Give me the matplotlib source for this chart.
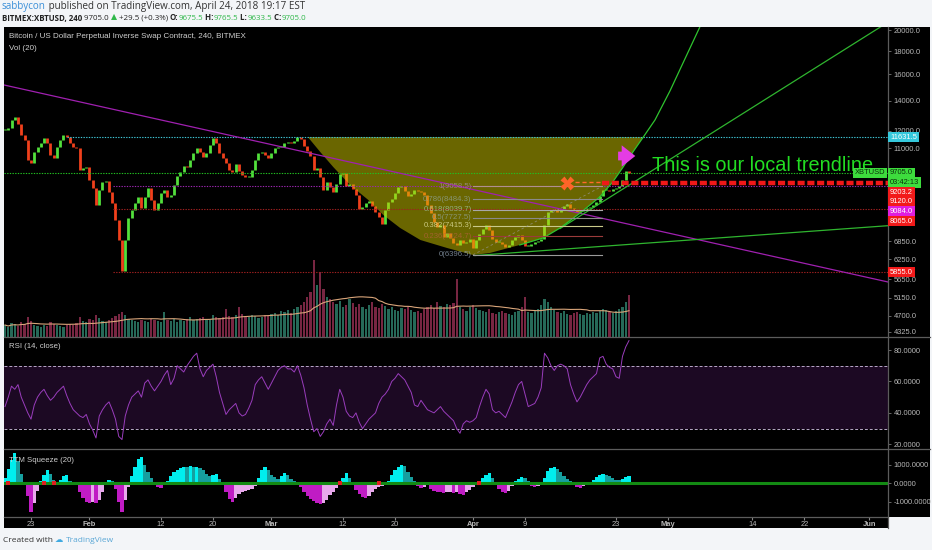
import numpy as np
import pandas as pd
import matplotlib
matplotlib.use('Agg')
import matplotlib.pyplot as plt
import matplotlib.dates as mdates
from matplotlib.ticker import FixedLocator, FuncFormatter, NullLocator
from matplotlib.patches import Rectangle
from matplotlib.lines import Line2D

# ---------------------------------------------------------------- data
# 12h closes of XBTUSD, starting 2018-01-19 00:00
closes = [
    12060, 12180, 12700, 12880, 12400, 11750, 11460, 10350, 10200, 10780,
    11060, 11290, 11580, 11290, 10620, 10460, 11060, 11460, 11750, 11640,
    11290, 11060, 11000, 9840, 9940, 9990, 9350, 8980, 8240, 8890,
    9260, 9310, 8800, 8320, 7640, 6900, 5900, 6900, 7710, 8030,
    8320, 8580, 8120, 8580, 8980, 8450, 8030, 8320, 8760, 8890,
    8580, 8670, 9120, 9550, 9740, 10040, 9990, 10350, 10730, 11000,
    10780, 10510, 10730, 11170, 11580, 11290, 10730, 10460, 10200, 9840,
    9740, 10150, 9790, 9600, 9500, 9500, 9840, 10350, 10730, 10780,
    10620, 10460, 10730, 11000, 11060, 11060, 11290, 11340, 11290, 11400,
    11640, 11520, 11120, 10840, 10570, 9840, 9940, 9500, 8890, 9260,
    9030, 8800, 9170, 9640, 9690, 9070, 9170, 8940, 8670, 8070,
    8160, 8320, 8410, 8200, 7950, 7750, 7480, 8030, 8370, 8490,
    8760, 9030, 9070, 8850, 8630, 8710, 8890, 8850, 8800, 8670,
    8240, 7910, 7560, 7370, 7440, 7000, 7150, 6970, 6800, 6730,
    6900, 6800, 6830, 6940, 6630, 6900, 7110, 7300, 7440, 7260,
    6940, 6830, 6830, 6760, 6660, 6730, 6900, 7000, 7080, 6900,
    6690, 6690, 6760, 6830, 6860, 6940, 7440, 7950, 8030, 8030,
    7950, 8070, 8200, 8280, 8120, 8030, 7950, 7990, 8030, 8120,
    8160, 8240, 8370, 8630, 8890, 8890, 8850, 8940, 8980, 9070,
    9350, 9790, 9705,
]

volume = [
    120, 100, 140, 130, 110, 150, 130, 200, 160, 120,
    110, 100, 120, 110, 150, 130, 120, 110, 100, 120,
    130, 120, 140, 200, 160, 150, 180, 170, 220, 190,
    160, 150, 170, 190, 210, 230, 250, 220, 180, 170,
    160, 150, 170, 160, 150, 180, 170, 160, 150, 250,
    170, 160, 180, 150, 170, 160, 180, 200, 170, 180,
    190, 200, 180, 170, 220, 200, 190, 200, 280, 210,
    200, 220, 300, 230, 210, 200, 220, 210, 190, 200,
    220, 210, 230, 240, 220, 260, 250, 270, 240, 280,
    300, 320, 350, 400, 450, 770, 520, 650, 480, 400,
    380, 350, 330, 360, 300, 320, 380, 340, 300, 330,
    300, 280, 320, 350, 300, 290, 330, 310, 280, 300,
    270, 260, 290, 280, 300, 270, 250, 260, 240, 280,
    300, 320, 290, 350, 310, 300, 330, 320, 340, 580,
    300, 280, 260, 300, 320, 290, 270, 260, 250, 280,
    240, 230, 250, 260, 240, 230, 220, 250, 260, 300,
    400, 250, 240, 260, 280, 320, 380, 350, 300, 270,
    250, 240, 260, 230, 220, 240, 250, 230, 220, 240,
    230, 250, 240, 260, 280, 270, 250, 240, 260, 280,
    300, 350, 420,
]

rsi = [
    44, 50, 57, 55, 58, 50, 45, 40, 36, 45,
    50, 53, 55, 51, 48, 50, 53, 55, 57, 51,
    46, 42, 40, 38, 37, 39, 33, 29, 24, 38,
    42, 45, 47, 42, 36, 25, 23, 38, 45, 50,
    52, 54, 50, 59, 61, 57, 54, 57, 60, 64,
    67, 58, 62, 70, 68, 66, 70, 73, 76, 78,
    68, 63, 67, 69, 71, 63, 53, 46, 39, 42,
    44, 46, 40, 38, 39, 43, 48, 58, 61, 63,
    59, 55, 59, 63, 67, 69, 70, 68, 68, 66,
    70, 64, 56, 45, 36, 28, 30, 25, 28, 33,
    36, 32, 45, 55, 50, 41, 38, 37, 40, 34,
    30, 33, 36, 38, 40, 46, 50, 52, 55, 60,
    62, 65, 63, 61, 57, 53, 45, 44, 48, 45,
    42, 41, 40, 42, 44, 41, 39, 37, 35, 30,
    27, 33, 35, 34, 35, 37, 44, 50, 55, 52,
    42, 40, 41, 39, 37, 42, 47, 53, 58, 60,
    52, 44, 45, 46, 50, 56, 78, 75, 70, 67,
    70, 71, 70, 68, 58, 52, 47, 50, 54, 58,
    61, 63, 65, 75, 76, 71, 69, 68, 63, 62,
    76, 82, 86,
]

squeeze = [
    300, 800, 1300, 1640, 1200, 500, -100, -700, -1550, -1100,
    -400, 150, 450, 730, 500, 200, -80, 200, 400, 450,
    150, 20, -100, -450, -800, -1000, -1050, -1000, -1100, -900,
    -500, -100, 180, 100, -300, -1000, -1550, -900, -200, 400,
    900, 1350, 1450, 1000, 600, 300, 80, -200, -250, -100,
    150, 400, 600, 750, 850, 910, 900, 920, 880, 900,
    850, 700, 500, 400, 450, 500, 250, -100, -500, -850,
    -1000, -800, -600, -450, -400, -350, -300, -150, 300, 700,
    910, 750, 450, 350, 250, 400, 550, 450, 250, 100,
    -50, -200, -450, -700, -850, -950, -1050, -1150, -1100, -900,
    -650, -450, -250, -100, 300, 550, 300, -100, -350, -600,
    -750, -820, -700, -500, -300, -200, -150, -50, 150, 450,
    700, 900, 1020, 950, 600, 350, 100, -150, -250, -200,
    -100, -300, -400, -450, -500, -550, -500, -450, -550, -500,
    -600, -640, -500, -350, -200, -50, 100, 300, 450, 550,
    300, -100, -300, -450, -550, -400, -150, 100, 250, 360,
    300, 100, -150, -200, -150, -50, 300, 650, 850, 910,
    800, 600, 400, 250, 100, -100, -200, -250, -150, -80,
    50, 200, 350, 450, 500, 480, 400, 300, 200, 180,
    250, 350, 410,
]
squeeze_on = [1, 12, 15, 103, 115, 146]

# drawings: (days after 2018-01-23, price)
arc_days = [42.6, 44.5, 46.5, 49.1, 51.9, 54.2, 56.8, 59.9, 64.0, 68.0, 70.6,
            75.2, 78.8, 81.4, 84.5, 87.5, 89.5, 91.1, 92.6, 94.2]
arc_price = [11631.5, 10783, 9992, 9120, 8451, 7832, 7332, 6899, 6625, 6392, 6458,
             6727, 6970, 7332, 7912, 8581, 9260, 9992, 10783, 11631.5]
curve_days = [75.2, 78.8, 81.4, 84.5, 87.5, 89.5, 91.1, 92.6, 94.2, 96.0, 98.3, 100.6, 102.9]
curve_price = [6727, 6970, 7332, 7912, 8581, 9260, 9992, 10783, 11631.5, 12686, 14696, 17289, 20338]
purple_line = ([-4.15, 131.85], [15152, 5574])
green_low = ([68.3, 131.85], [6375, 7418])
green_mid = ([81.4, 131.85], [7312, 20839])

fib_ratio = ['1', '0.786', '0.618', '0.5', '0.382', '0.236', '0']
fib_price = [9058.5, 8484.3, 8039.7, 7727.5, 7415.3, 7024.7, 6396.5]
fib_line_col = ['#b08f8f', '#8a8a8a', '#a8a8a8', '#8a8a8a', '#c9c98a', '#9c3b3b', '#9a9a9a']
fib_text_col = ['#a09090', '#8fa08f', '#9fc09f', '#8fa08f', '#e0e0a0', '#b0603a', '#8f9fb0']

levels = [  # price, start day, colour
    (11631.5, 5.5, '#3fc6d6'),
    (9705.0, -4.2, '#22c022'),
    (9084.0, 12.6, '#9c27b0'),
    (8065.0, 12.6, '#a02020'),
    (5855.0, 12.6, '#a02020'),
]
price_labels = [  # text, price, box colour, text colour
    ('11631.5', 11631.5, '#35c8dc', '#ffffff'),
    ('9705.0', 9705.0, '#3ddc3d', '#0a300a'),
    ('03:42:13', 9705.0, '#3ddc3d', '#0a300a'),
    ('9203.2', 9203.2, '#f21a1a', '#ffffff'),
    ('9120.0', 9120.0, '#f21a1a', '#ffffff'),
    ('9084.0', 9084.0, '#e01ee0', '#ffffff'),
    ('8065.0', 8065.0, '#f21a1a', '#ffffff'),
    ('5855.0', 5855.0, '#f21a1a', '#ffffff'),
]
price_ticks = [4325, 4700, 5150, 5650, 6250, 6850, 11000, 12000, 14000, 16000, 18000, 20000]
date_ticks = [0, 9, 20, 28, 37, 48, 56, 68, 76, 90, 98, 111, 119, 129]
date_labels = ['23', 'Feb', '12', '20', 'Mar', '12', '20', 'Apr', '9', '23', 'May', '14', '22', 'Jun']

# ---------------------------------------------------------------- setup
W, H = 932, 550
T0 = pd.Timestamp('2018-01-23')


def at(days):
    return mdates.date2num(T0 + pd.to_timedelta(np.asarray(days, float), unit='D'))


def box(x0, y0, x1, y1):
    return [x0 / W, 1 - y1 / H, (x1 - x0) / W, (y1 - y0) / H]


bg = '#f3f5f8'
axis_txt = '#b8b8b8'
plt.rcParams['font.family'] = ['Liberation Sans', 'DejaVu Sans']

fig = plt.figure(figsize=(W / 100, H / 100), dpi=100, facecolor=bg)
fig.add_artist(Rectangle((4 / W, 1 - 517 / H), 926 / W, 490 / H, transform=fig.transFigure,
                         fc='black', ec='none', zorder=0))
fig.add_artist(Rectangle((4 / W, 1 - 528 / H), 884 / W, 11 / H, transform=fig.transFigure,
                         fc='black', ec='none', zorder=0))

ax_vol = fig.add_axes(box(4, 27, 888, 337), facecolor='black')
ax = fig.add_axes(box(4, 27, 888, 337), sharex=ax_vol)
ax.patch.set_alpha(0)
ax_rsi = fig.add_axes(box(4, 337, 888, 449), sharex=ax_vol, facecolor='black')
ax_sq = fig.add_axes(box(4, 449, 888, 517), sharex=ax_vol, facecolor='black')

bars = pd.date_range('2018-01-19', periods=len(closes), freq='12h')
xb = mdates.date2num(bars)
c = np.array(closes, float)
o = np.r_[c[0], c[:-1]]
up = c >= o

for a in (ax_vol, ax, ax_rsi, ax_sq):
    for s in a.spines.values():
        s.set_visible(False)
    a.set_xlim(at(-4.154), at(131.85))
    a.tick_params(axis='x', which='both', bottom=False, labelbottom=False)

# ---------------------------------------------------------------- volume
v = np.array(volume, float)
vol_col = np.where(up, '#2b7563', '#862b4a')
ax_vol.bar(xb, v, width=0.34, color=vol_col, alpha=0.9, lw=0)
ax_vol.plot(xb, pd.Series(v).rolling(20, min_periods=1).mean(), color='#d9a57a', lw=0.8)
ax_vol.set_ylim(0, 3100)
ax_vol.set_yticks([])

# ---------------------------------------------------------------- price
ax.set_yscale('log')
ax.set_ylim(4216, 20338)
lo = np.minimum(o, c)
hi = np.maximum(np.maximum(o, c), lo * 1.006)
ax.vlines(xb, lo, hi, colors=np.where(up, '#52e03c', '#f0401c'), lw=2.0, zorder=2)

ax.fill(at(arc_days), arc_price, color='#d4cc00', alpha=0.5, lw=0, zorder=3)

for p, d0, col in levels:
    ax.plot(at([d0, 131.85]), [p, p], color=col, lw=0.8, ls=(0, (1.2, 1.2)), zorder=4)

ax.plot(at(purple_line[0]), purple_line[1], color='#a020b0', lw=0.9, zorder=4)
ax.plot(at(green_low[0]), green_low[1], color='#2fb52f', lw=0.9, zorder=4)
ax.plot(at(green_mid[0]), green_mid[1], color='#2fb52f', lw=0.9, zorder=4)
ax.plot(at(curve_days), curve_price, color='#2fc52f', lw=0.9, zorder=4)

# fibonacci retracement
for r, p, lc, tc in zip(fib_ratio, fib_price, fib_line_col, fib_text_col):
    ax.plot(at([68.0, 87.85]), [p, p], color=lc, lw=0.8, zorder=4)
    ax.text(at(67.8), p, f'{r}({p:.1f})', color=tc, fontsize=5.6, ha='right', va='center',
            alpha=0.8, zorder=5)
ax.plot(at([68.0, 87.85]), [fib_price[-1], fib_price[0]], color='#9a9a9a', lw=0.6,
        ls=(0, (3, 3)), alpha=0.7, zorder=4)

# target line and marker
ax.plot(at([83.7, 87.9]), [9240, 9240], color='#ff6a2a', lw=1.0, ls=(0, (3, 2)), zorder=5)
ax.plot(at([87.9, 131.85]), [9203.2, 9203.2], color='#f01818', lw=3.2, ls=(0, (1.6, 0.6)),
        zorder=5)
ax.plot(at([82.5]), [9203.2], marker='X', ms=10, color='#ff6428', mec='none', zorder=6)
ax.annotate('', xy=(at(93.4), 10566), xytext=(at(89.9), 10566),
            arrowprops=dict(arrowstyle='simple,head_length=0.7,head_width=1.1,tail_width=0.45',
                            color='#e43ce4', lw=0, mutation_scale=14), zorder=6)
ax.text(at(95.5), 10090, 'This is our local trendline', color='#22dd22', fontsize=14.3,
        ha='left', va='center', zorder=6, clip_on=False)

ax.yaxis.tick_right()
ax.yaxis.set_major_locator(FixedLocator(price_ticks))
ax.yaxis.set_minor_locator(NullLocator())
ax.yaxis.set_major_formatter(FuncFormatter(lambda val, pos: f'{val:.1f}'))
ax.tick_params(axis='y', colors='#777777', labelcolor=axis_txt, labelsize=5.4, length=2,
               width=0.6, pad=2)

# ---------------------------------------------------------------- RSI
ax_rsi.axhspan(30, 70, color='#5a1f70', alpha=0.32, lw=0)
for lvl in (30, 70):
    ax_rsi.axhline(lvl, color='#b8a8c8', lw=0.7, ls=(0, (3, 2)))
ax_rsi.plot(xb, rsi, color='#9a3dbd', lw=0.7)
ax_rsi.set_ylim(17, 88.3)
ax_rsi.yaxis.tick_right()
ax_rsi.set_yticks([20, 40, 60, 80])
ax_rsi.yaxis.set_major_formatter(FuncFormatter(lambda val, pos: f'{val:.4f}'))
ax_rsi.tick_params(axis='y', colors='#777777', labelcolor=axis_txt, labelsize=5.4, length=2,
                   width=0.6, pad=2)

# ---------------------------------------------------------------- TTM squeeze
sq = np.array(squeeze, float)
prev = np.r_[sq[0], sq[:-1]]
sq_col = np.where(sq >= 0, np.where(sq >= prev, '#00eeee', '#169f9f'),
                  np.where(sq <= prev, '#c01cc4', '#e8a8ec'))
ax_sq.bar(xb, sq, width=0.5, color=sq_col, lw=0)
ax_sq.axhline(0, color='#138a13', lw=2.2)
ax_sq.scatter(xb[squeeze_on], np.zeros(len(squeeze_on)), s=5, marker='s', color='#e02020',
              zorder=3, lw=0)
ax_sq.set_ylim(-1842, 1874)
ax_sq.yaxis.tick_right()
ax_sq.set_yticks([-1000, 0, 1000])
ax_sq.yaxis.set_major_formatter(FuncFormatter(lambda val, pos: f'{val:.4f}'))
ax_sq.tick_params(axis='y', colors='#777777', labelcolor=axis_txt, labelsize=5.4, length=2,
                  width=0.6, pad=2)

ax_sq.xaxis.set_major_locator(FixedLocator(at(date_ticks)))
ax_sq.xaxis.set_major_formatter(FuncFormatter(lambda val, pos: date_labels[pos]))
ax_sq.tick_params(axis='x', bottom=True, labelbottom=True, length=2, color='#888888',
                  labelcolor=axis_txt, labelsize=5.4, pad=0.8)
for t in ax_sq.get_xticklabels():
    if not t.get_text().isdigit():
        t.set_fontweight('bold')

# ---------------------------------------------------------------- panel texts
for txt, y, fs in [('Bitcoin / US Dollar Perpetual Inverse Swap Contract, 240, BITMEX', 36, 5.75),
                   ('Vol (20)', 48, 5.75), ('RSI (14, close)', 346, 5.6),
                   ('TTM Squeeze (20)', 460, 5.6)]:
    fig.text(9 / W, 1 - y / H, txt, color='#cfcfcf', fontsize=fs, va='center', zorder=10)

# separators
for y, x1 in [(337, 930), (449, 930), (517, 888)]:
    fig.add_artist(Line2D([4 / W, x1 / W], [1 - y / H, 1 - y / H], color='#5c5c5c', lw=0.9))
fig.add_artist(Line2D([888 / W, 888 / W], [1 - 27 / H, 1 - 528 / H], color='#5c5c5c', lw=0.9))

# ---------------------------------------------------------------- price labels
lnlo, lnhi = np.log(4216), np.log(20338)
step = 9.7
last = -1e9
for txt, p, fc, tc in price_labels:
    y = 27 + (lnhi - np.log(p)) / (lnhi - lnlo) * 310
    y = max(y, last + step) if p < 11000 else y
    last = y
    fig.text(890 / W, 1 - y / H, txt, color=tc, fontsize=5.4, ha='left', va='center', zorder=20,
             bbox=dict(boxstyle='square,pad=0.22', fc=fc, ec='none'))
    if txt == '9705.0':
        fig.text(885 / W, 1 - y / H, 'XBTUSD', color='#0a300a', fontsize=5.4, ha='right',
                 va='center', zorder=20, bbox=dict(boxstyle='square,pad=0.22', fc=fc, ec='none'))

# ---------------------------------------------------------------- header / footer
renderer = fig.canvas.get_renderer()


def chain(x, y, parts, size, family):
    for s, col, wt in parts:
        t = fig.text(x / W, 1 - y / H, s, color=col, fontsize=size, fontweight=wt,
                     va='center', family=family)
        x += t.get_window_extent(renderer).width


chain(2, 7, [('sabbycon', '#3a8fd8', 'normal'),
             (' published on TradingView.com, April 24, 2018 19:17 EST', '#333333', 'normal')],
      7.1, 'Open Sans')
gr = '#2fb84a'
chain(2, 18, [('BITMEX:XBTUSD, 240', '#222222', 'bold'), (' 9705.0 ', '#222222', 'normal'),
              ('\u25b2', gr, 'normal'), (' +29.5 (+0.3%) ', '#222222', 'normal'),
              ('O:', '#222222', 'bold'), ('9675.5', gr, 'normal'), (' H:', '#222222', 'bold'),
              ('9765.5', gr, 'normal'), (' L:', '#222222', 'bold'), ('9633.5', gr, 'normal'),
              (' C:', '#222222', 'bold'), ('9705.0', gr, 'normal')],
      5.65, ['Open Sans', 'DejaVu Sans'])
chain(3, 540, [('Created with ', '#333333', 'normal'), ('\u2601 ', '#3fa9e0', 'normal'),
               ('TradingView', '#5aa7d6', 'normal')], 6.0, ['Open Sans', 'DejaVu Sans'])

fig.savefig('out.png', dpi=100, facecolor=bg)
